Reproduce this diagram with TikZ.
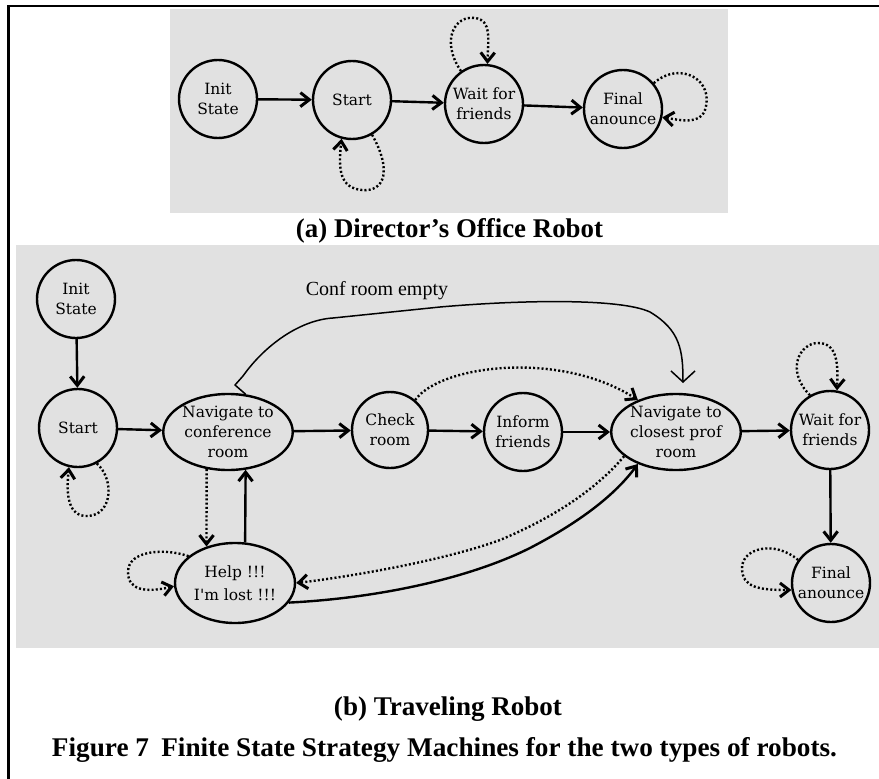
\documentclass[tikz,border=0pt]{standalone}
\usepackage{fontspec}
\usepackage{graphicx}
\setmainfont{Liberation Serif}
\newfontfamily\nodefont{DejaVu Serif}
\usetikzlibrary{shapes.geometric,arrows.meta}
\definecolor{panelgray}{RGB}{225,225,225}
\tikzset{
  st/.style={draw, line width=2.4pt, circle, minimum size=78pt, inner sep=0pt, align=center,
    font=\nodefont\fontsize{15.5}{20}\selectfont},
  el/.style={st, ellipse, minimum width=122pt, minimum height=76pt},
  tr/.style={line width=2.4pt, line join=round, -{Straight Barb[length=9pt,width=14pt,line width=3pt]}},
  dtr/.style={tr, dash pattern=on 2pt off 2.2pt},
  thinarr/.style={line width=1.5pt, line join=round, -{Straight Barb[length=11pt,width=24pt]}},
  capt/.style={font=\bfseries\fontsize{27}{32}\selectfont, inner sep=0pt}
}
\begin{document}
\begin{tikzpicture}[x=1pt,y=-1pt]
\useasboundingbox (0,0) rectangle (879,779);
\fill[white] (0,0) rectangle (879,779);
% frame (only top and left visible)
\draw[line width=2.2pt] (8.5,779) -- (8.5,6) -- (879,6);
% panels
\fill[panelgray] (170,9) rectangle (728,213);
\fill[panelgray] (16,245) rectangle (879,648);

% ---------- (a) Director's Office Robot ----------
\node[st] (ainit) at (218,99) {Init\\State};
\node[st] (astart) at (352,100) {Start};
\node[st] (await) at (484,104) {Wait for\\friends};
\node[st] (afinal) at (623,109) {Final\\anounce};
\draw[tr] (ainit) -- (astart);
\draw[tr] (astart) -- (await);
\draw[tr] (await) -- (afinal);
\draw[dtr] (astart.-60) .. controls (392,170) and (385,192) .. (362,190)
  .. controls (340,188) and (338,170) .. (astart.-105);
\draw[dtr] (await.125) .. controls (440,40) and (455,15) .. (475,18)
  .. controls (492,20) and (488,40) .. (await.85);
\draw[dtr] (afinal.40) .. controls (680,60) and (715,80) .. (705,110)
  .. controls (700,125) and (680,120) .. (afinal.-12);
\node[capt] (capa) at (449.5,231) {\resizebox{307pt}{\height}{(a) Director’s Office Robot}};

% ---------- (b) Traveling Robot ----------
\node[st] (binit) at (76,299) {Init\\State};
\node[st] (bstart) at (78,428) {Start};
\node[el] (bnavc) at (228,432) {Navigate to\\conference\\room};
\node[st, minimum size=76pt] (bcheck) at (390,430) {Check\\room};
\node[st] (binform) at (523,432) {Inform\\friends};
\node[el] (bnavp) at (676,432) {Navigate to\\closest prof\\room};
\node[st] (bwait) at (830,430) {Wait for\\friends};
\node[st] (bfinal) at (831,583) {Final\\anounce};
\node[el, minimum width=120pt, minimum height=80pt, font=\nodefont\fontsize{15.5}{23}\selectfont] (bhelp) at (235,583) {Help !!!\\I'm lost !!!};
\coordinate (cfend) at (683,383);

\draw[tr] (binit) -- (bstart);
\draw[tr] (bstart) -- (bnavc);
\draw[tr] (bnavc) -- (bcheck);
\draw[tr] (bcheck) -- (binform);
\draw[tr] (binform) -- (bnavp);
\draw[tr] (bnavp) -- (bwait);
\draw[tr] (bwait) -- (bfinal);
\draw[dtr] (bnavc.-120) -- (bhelp.128);
\draw[tr] (bhelp.76) -- (bnavc.-65);
\draw[dtr] (bcheck.50) .. controls (440,365) and (560,350) .. (bnavp.140);
\draw[dtr] (bnavp.-155) .. controls (600,485) and (560,515) .. (500,540)
  .. controls (440,562) and (340,578) .. (bhelp.east);
\draw[tr] (bhelp.-20) .. controls (380,598) and (470,578) .. (530,548)
  .. controls (580,522) and (615,495) .. (bnavp.-140);
\draw[thinarr] (bnavc.65) -- (235,385) -- (243,376) .. controls (265,345) and (300,320) .. (333,318)
  -- (440,307) .. controls (520,300) and (620,298) .. (650,312)
  .. controls (680,330) and (683,350) .. (cfend);
\node[font=\fontsize{20}{24}\selectfont, inner sep=0pt] (lbl) at (377,291) {Conf room empty};

% self loops
\draw[dtr] (bstart.-62) .. controls (115,480) and (112,515) .. (88,516)
  .. controls (68,517) and (66,495) .. (bstart.-103);
\draw[dtr] (bhelp.150) .. controls (165,548) and (128,550) .. (128,572)
  .. controls (128,590) and (145,593) .. (bhelp.183);
\draw[dtr] (bwait.120) .. controls (785,370) and (800,343) .. (818,343)
  .. controls (838,343) and (838,365) .. (bwait.80);
\draw[dtr] (bfinal.145) .. controls (775,540) and (742,548) .. (742,568)
  .. controls (742,588) and (760,590) .. (bfinal.190);

% captions
\node[capt] (capb) at (448,709) {\resizebox{228pt}{\height}{(b) Traveling Robot}};
\node[capt] (capf) at (444.5,750) {\resizebox{785pt}{\height}{Figure 7\hspace{0.2em} Finite State Strategy Machines for the two types of robots.}};
\end{tikzpicture}
\end{document}
